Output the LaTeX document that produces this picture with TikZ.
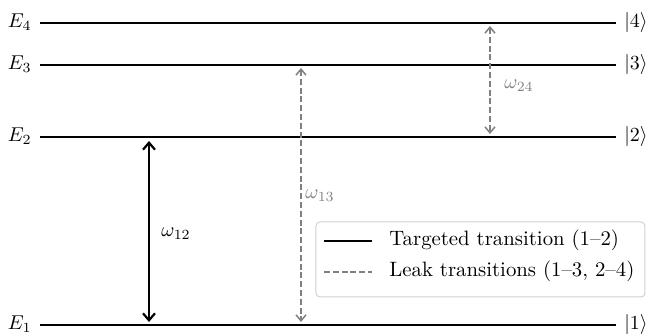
\documentclass[tikz,border=0pt]{standalone}
\usetikzlibrary{arrows.meta}
\begin{document}
\begin{tikzpicture}[x=0.5pt,y=-0.5pt,
  txt/.style={inner ysep=0pt, inner xsep=4pt, font=\fontsize{10.4}{12.5}\selectfont},
  level/.style={line width=1pt},
  barb/.style={Straight Barb[length=3.5pt,width=6pt]},
  tgt/.style={line width=1.1pt, {Straight Barb[length=3.5pt,width=6pt]}-{Straight Barb[length=3.5pt,width=6pt]}},
  leak/.style={gray, line width=0.75pt, dash pattern=on 3pt off 1.4pt,
    {Straight Barb[length=3pt,width=5pt]}-{Straight Barb[length=3pt,width=5pt]}},
  leakkey/.style={gray, line width=0.75pt, dash pattern=on 3pt off 1.4pt},
  tgtkey/.style={line width=1.1pt}]
\useasboundingbox (0,0) rectangle (650,336);

% energy levels: labels on both sides, lines between them
\foreach \i/\y in {4/23,3/65,2/137,1/325}{
  \node[txt, anchor=mid east] (E\i) at (40,\y) {$E_{\i}$};
  \node[txt, anchor=mid west] (k\i) at (616,\y) {$|\i\rangle$};
  \draw[level] (E\i.mid east) -- (k\i.mid west);
}

% arrow end points
\coordinate (t12a) at (149,141);
\coordinate (t12b) at (149,322);
\coordinate (t13a) at (301,68);
\coordinate (t13b) at (301,322);
\coordinate (t24a) at (490,26);
\coordinate (t24b) at (490,134);

% targeted transition
\draw[tgt] (t12a) -- (t12b);
\node[txt, inner xsep=0pt] (w12) at (176,234) {$\omega_{12}$};

% leak transitions
\draw[leak] (t13a) -- (t13b);
\node[txt, inner xsep=0pt, text=gray] (w13) at (320,196) {$\omega_{13}$};
\draw[leak] (t24a) -- (t24b);
\node[txt, inner xsep=0pt, text=gray] (w24) at (519,86) {$\omega_{24}$};

% legend
\draw[draw=black!18, fill=white, rounded corners=2pt, line width=0.5pt] (316,222) rectangle (645,297);
\coordinate (ka) at (324,241);
\coordinate (kb) at (372,241);
\coordinate (kc) at (324,272);
\coordinate (kd) at (372,272);
\draw[tgtkey] (ka) -- (kb);
\draw[leakkey] (kc) -- (kd);
\node[txt, inner xsep=0pt, anchor=mid west] (lg1) at (389,241) {Targeted transition (1--2)};
\node[txt, inner xsep=0pt, anchor=mid west] (lg2) at (389,272) {Leak transitions (1--3, 2--4)};
\end{tikzpicture}
\end{document}
